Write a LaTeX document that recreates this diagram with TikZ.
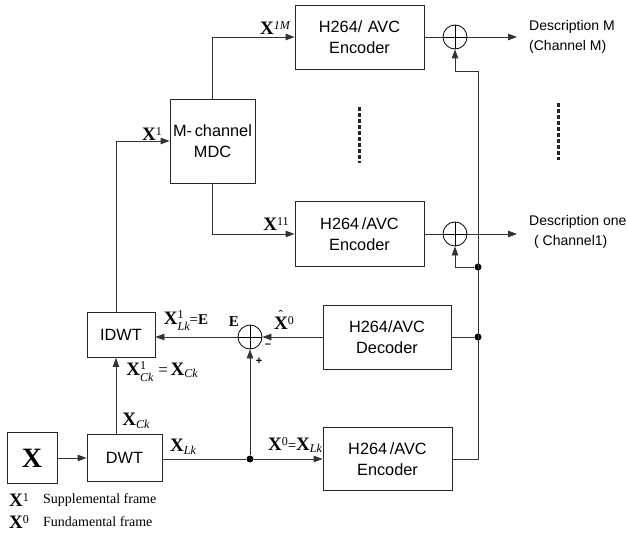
\documentclass[tikz,border=0pt]{standalone}
\usepackage{fontspec}
\setmainfont{Liberation Serif}
\setsansfont{Liberation Sans}
\usetikzlibrary{arrows.meta}
\newcommand\bX{{\fontsize{19}{19}\selectfont\bfseries X}}
\newcommand\bE{{\fontsize{15}{15}\selectfont\bfseries E}}
\newcommand\sps[1]{\raisebox{1.05ex}{\fontsize{12}{12}\selectfont #1}}
\newcommand\sbs[1]{\raisebox{-0.55ex}{\fontsize{12}{12}\selectfont\itshape #1}}
\newcommand\spsb[2]{\raisebox{-0.2ex}{\fontsize{12}{11}\selectfont\begin{tabular}[c]{@{}l@{}}#1\\\itshape #2\end{tabular}}}
\newcommand\hX{\makebox[0pt][l]{\hspace{4.5pt}\raisebox{9.5pt}{\fontsize{13}{13}\selectfont\char"02C6}}\bX}
\tikzset{
  blk/.style={draw=black!85, line width=0.8pt, rectangle, inner sep=0pt,
    font=\sffamily\fontsize{16.3}{21}\selectfont, align=center},
  sumc/.style={draw=black, line width=0.8pt, circle, minimum size=24pt, inner sep=0pt,
    path picture={\draw[line width=0.8pt] (path picture bounding box.north) -- (path picture bounding box.south)
      (path picture bounding box.west) -- (path picture bounding box.east);}},
  wire/.style={draw=black!80, line width=0.8pt},
  arr/.style={wire, -{Triangle[length=9pt,width=6.5pt]}},
  jdot/.style={circle, fill=black, inner sep=0pt, minimum size=7pt},
  lbl/.style={inner sep=0pt},
  desc/.style={inner sep=0pt, anchor=west, align=left, font=\sffamily\fontsize{14}{20}\selectfont},
  dots/.style={line width=3pt, dash pattern=on 4pt off 2pt, black!85},
  legend/.style={inner sep=0pt, anchor=west, font=\fontsize{14}{14}\selectfont}
}
\begin{document}
\begin{tikzpicture}[x=1pt,y=-1pt]
\useasboundingbox (0,0) rectangle (627,535);
% blocks
\node[blk, minimum width=129pt, minimum height=64pt] (encM) at (359.5,37) {H264/\,\,AVC\\Encoder};
\node[blk, minimum width=85pt, minimum height=84pt] (mdc) at (212.5,141) {M-{\,}channel\\MDC};
\node[blk, minimum width=129pt, minimum height=65pt] (enc1) at (359.5,234) {H264\,/AVC\\Encoder};
\node[blk, minimum width=128pt, minimum height=64pt] (dec) at (387,337) {H264/AVC\\Decoder};
\node[blk, minimum width=129pt, minimum height=63pt] (enc0) at (387.5,459) {H264\,/AVC\\Encoder};
\node[blk, minimum width=68pt, minimum height=45pt] (idwt) at (121,335) {IDWT};
\node[blk, minimum width=75pt, minimum height=47pt] (dwt) at (124.5,458) {DWT};
\node[blk, minimum width=50pt, minimum height=51pt, font=\fontsize{28}{28}\selectfont\bfseries] (X) at (32,458) {X};
% summing junctions
\node[sumc] (sumM) at (455,37) {};
\node[sumc] (sum1) at (455,234) {};
\node[sumc] (sumE) at (250,337) {};
% helper coordinates
\coordinate (vx) at (116,0);
\coordinate (busTop) at (478,71);
\coordinate (outM) at (517,37);
\coordinate (out1) at (517,234);
\node[jdot] (j1) at (478,267) {};
\node[jdot] (jD) at (478,337) {};
\node[jdot] (j0) at (250,459) {};
% connectors
\draw[arr] (mdc.north) |- (encM.west);
\draw[arr] (mdc.south) |- (enc1.west);
\draw[wire] (encM.east) -- (sumM.west);
\draw[wire] (enc1.east) -- (sum1.west);
\draw[arr] (sumM.east) -- (outM);
\draw[arr] (sum1.east) -- (out1);
\draw[wire] (enc0.east) -| (busTop);
\draw[arr] (busTop) -| (sumM.south);
\draw[arr] (j1) -| (sum1.south);
\draw[wire] (jD) -- (dec.east);
\draw[arr] (dec.west) -- (sumE.east);
\draw[arr] (sumE.west) -- (idwt.east |- sumE.west);
\draw[arr] (idwt.north -| vx) |- (mdc.west);
\draw[arr] (dwt.north -| vx) -- (idwt.south -| vx);
\draw[arr] (X.east) -- (dwt.west);
\draw[wire] (dwt.east |- j0) -- (j0);
\draw[arr] (j0) -- (enc0.west |- j0);
\draw[arr] (j0) -- (sumE.south);
% continuation dots
\draw[dots] (359,107) -- (359,163);
\draw[dots] (558,103) -- (558,160);
% outputs
\node[desc] (dM) at (529,37) {Description M\\(Channel M)};
\node[desc] (d1) at (529,232) {Description one\\\hspace*{5pt}( Channel1)};
% labels
\node[lbl] (lX1M) at (275,28) {\bX\sps{\itshape 1M}};
\node[lbl] (lX1) at (152,134) {\bX\sps{1}};
\node[lbl] (lX11) at (276,224) {\bX\sps{11}};
\node[lbl] (lXLkE) at (186,322) {\bX\spsb{1}{Lk}{\fontsize{15}{15}\selectfont=}\bE};
\node[lbl] (lE) at (234,322) {\bE};
\node[lbl] (lXh) at (284,320) {\hX\sps{0}};
\node[lbl, font=\sffamily\bfseries\fontsize{11}{11}\selectfont] (lm) at (268,346) {--};
\node[lbl, font=\sffamily\bfseries\fontsize{11}{11}\selectfont] (lp) at (259,361) {+};
\node[lbl] (lXCk) at (162,373) {\bX\spsb{1}{Ck}\ \ {\fontsize{17}{17}\selectfont =}\ \bX\sbs{Ck}};
\node[lbl] (lXC) at (136,421) {\bX\sbs{Ck}};
\node[lbl] (lXL) at (183,447) {\bX\sbs{Lk}};
\node[lbl] (lX0) at (295,445) {\bX\sps{0}{\fontsize{15}{15}\selectfont=}\bX\sbs{Lk}};
% legend
\node[lbl] (gX1) at (19,500) {\bX\sps{1}};
\node[legend] (gS) at (43,500) {Supplemental frame};
\node[lbl] (gX0) at (19,522) {\bX\sps{0}};
\node[legend] (gF) at (43,522) {Fundamental frame};
\end{tikzpicture}
\end{document}
